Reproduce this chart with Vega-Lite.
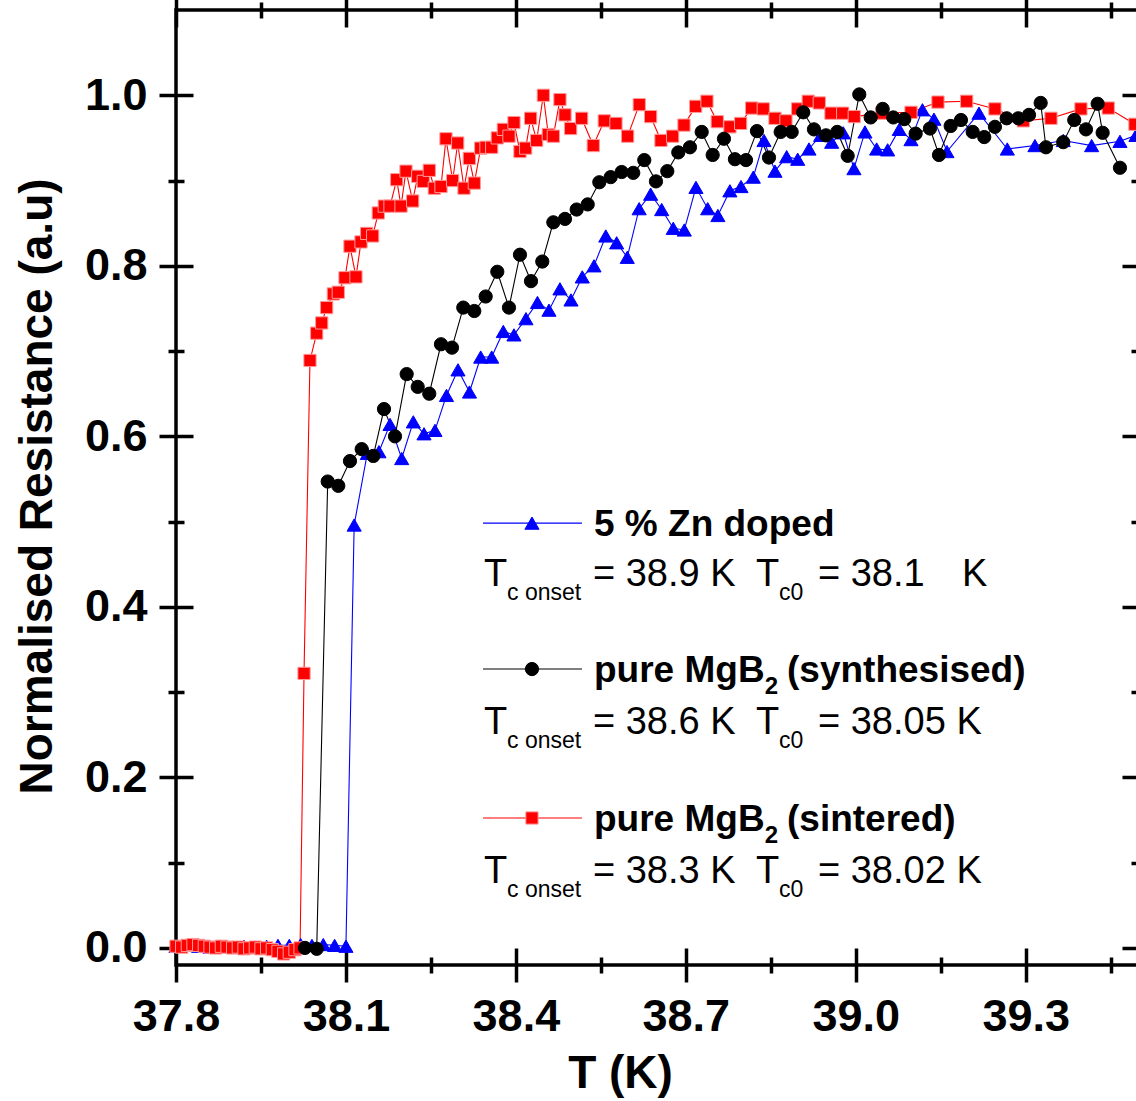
{
  "$schema": "https://vega.github.io/schema/vega-lite/v6.json",
  "width": 963,
  "height": 955,
  "autosize": {"type": "none"},
  "padding": {"left": 176, "top": 10, "right": 0, "bottom": 136},
  "background": "white",
  "config": {
    "view": {"stroke": "black", "strokeWidth": 3.5},
    "font": "Liberation Sans"
  },
  "datasets": {
    "curves": [
      {"s": "zn", "T": 37.80, "R": 0.002}, {"s": "zn", "T": 37.82, "R": 0.003}, {"s": "zn", "T": 37.84, "R": 0.002}, {"s": "zn", "T": 37.86, "R": 0.001},
      {"s": "zn", "T": 37.88, "R": 0.002}, {"s": "zn", "T": 37.90, "R": 0.001}, {"s": "zn", "T": 37.92, "R": 0.002}, {"s": "zn", "T": 37.94, "R": 0.001},
      {"s": "zn", "T": 37.96, "R": 0.002}, {"s": "zn", "T": 37.98, "R": 0.003}, {"s": "zn", "T": 38.00, "R": 0.003}, {"s": "zn", "T": 38.02, "R": 0.004},
      {"s": "zn", "T": 38.04, "R": 0.003}, {"s": "zn", "T": 38.06, "R": 0.004}, {"s": "zn", "T": 38.08, "R": 0.003}, {"s": "zn", "T": 38.10, "R": 0.002},
      {"s": "zn", "T": 38.1145, "R": 0.496}, {"s": "zn", "T": 38.1377, "R": 0.580}, {"s": "zn", "T": 38.1583, "R": 0.582}, {"s": "zn", "T": 38.1778, "R": 0.614},
      {"s": "zn", "T": 38.1984, "R": 0.574}, {"s": "zn", "T": 38.2189, "R": 0.617}, {"s": "zn", "T": 38.2378, "R": 0.603}, {"s": "zn", "T": 38.2572, "R": 0.607},
      {"s": "zn", "T": 38.2775, "R": 0.648}, {"s": "zn", "T": 38.2978, "R": 0.678}, {"s": "zn", "T": 38.3181, "R": 0.652}, {"s": "zn", "T": 38.3379, "R": 0.693},
      {"s": "zn", "T": 38.3573, "R": 0.693}, {"s": "zn", "T": 38.3778, "R": 0.723}, {"s": "zn", "T": 38.3966, "R": 0.719}, {"s": "zn", "T": 38.4178, "R": 0.738},
      {"s": "zn", "T": 38.4381, "R": 0.757}, {"s": "zn", "T": 38.4584, "R": 0.748}, {"s": "zn", "T": 38.4778, "R": 0.773}, {"s": "zn", "T": 38.4973, "R": 0.760},
      {"s": "zn", "T": 38.5172, "R": 0.787}, {"s": "zn", "T": 38.5379, "R": 0.800}, {"s": "zn", "T": 38.5587, "R": 0.835}, {"s": "zn", "T": 38.5779, "R": 0.827},
      {"s": "zn", "T": 38.5966, "R": 0.810}, {"s": "zn", "T": 38.6176, "R": 0.867}, {"s": "zn", "T": 38.6379, "R": 0.884}, {"s": "zn", "T": 38.6574, "R": 0.866},
      {"s": "zn", "T": 38.6778, "R": 0.844}, {"s": "zn", "T": 38.6973, "R": 0.842}, {"s": "zn", "T": 38.7179, "R": 0.892}, {"s": "zn", "T": 38.7386, "R": 0.867},
      {"s": "zn", "T": 38.7566, "R": 0.859}, {"s": "zn", "T": 38.7778, "R": 0.888}, {"s": "zn", "T": 38.7974, "R": 0.893}, {"s": "zn", "T": 38.8191, "R": 0.904},
      {"s": "zn", "T": 38.8380, "R": 0.947}, {"s": "zn", "T": 38.8574, "R": 0.911}, {"s": "zn", "T": 38.8780, "R": 0.928}, {"s": "zn", "T": 38.8975, "R": 0.925},
      {"s": "zn", "T": 38.9174, "R": 0.937}, {"s": "zn", "T": 38.9380, "R": 0.953}, {"s": "zn", "T": 38.9575, "R": 0.945}, {"s": "zn", "T": 38.9779, "R": 0.956},
      {"s": "zn", "T": 38.9968, "R": 0.914}, {"s": "zn", "T": 39.0162, "R": 0.957}, {"s": "zn", "T": 39.0369, "R": 0.937}, {"s": "zn", "T": 39.0563, "R": 0.936},
      {"s": "zn", "T": 39.0768, "R": 0.960}, {"s": "zn", "T": 39.0975, "R": 0.948}, {"s": "zn", "T": 39.1177, "R": 0.983}, {"s": "zn", "T": 39.1380, "R": 0.972},
      {"s": "zn", "T": 39.1610, "R": 0.934}, {"s": "zn", "T": 39.2175, "R": 0.979}, {"s": "zn", "T": 39.2675, "R": 0.937}, {"s": "zn", "T": 39.3163, "R": 0.941},
      {"s": "zn", "T": 39.3663, "R": 0.947}, {"s": "zn", "T": 39.4164, "R": 0.941}, {"s": "zn", "T": 39.4664, "R": 0.946}, {"s": "zn", "T": 39.4946, "R": 0.953},

      {"s": "sint", "T": 37.80, "R": 0.002}, {"s": "sint", "T": 37.81, "R": 0.001}, {"s": "sint", "T": 37.82, "R": 0.003}, {"s": "sint", "T": 37.83, "R": 0.004},
      {"s": "sint", "T": 37.84, "R": 0.003}, {"s": "sint", "T": 37.85, "R": 0.002}, {"s": "sint", "T": 37.86, "R": 0.001}, {"s": "sint", "T": 37.87, "R": 0.000},
      {"s": "sint", "T": 37.88, "R": 0.002}, {"s": "sint", "T": 37.89, "R": 0.001}, {"s": "sint", "T": 37.90, "R": 0.000}, {"s": "sint", "T": 37.91, "R": 0.001},
      {"s": "sint", "T": 37.92, "R": -0.001}, {"s": "sint", "T": 37.93, "R": 0.000}, {"s": "sint", "T": 37.94, "R": 0.001}, {"s": "sint", "T": 37.95, "R": -0.001},
      {"s": "sint", "T": 37.96, "R": 0.000}, {"s": "sint", "T": 37.97, "R": -0.002}, {"s": "sint", "T": 37.98, "R": -0.004}, {"s": "sint", "T": 37.99, "R": -0.007},
      {"s": "sint", "T": 38.00, "R": -0.005}, {"s": "sint", "T": 38.01, "R": -0.002}, {"s": "sint", "T": 38.019, "R": 0.000},
      {"s": "sint", "T": 38.026, "R": 0.322}, {"s": "sint", "T": 38.0365, "R": 0.689}, {"s": "sint", "T": 38.0484, "R": 0.721}, {"s": "sint", "T": 38.0572, "R": 0.733},
      {"s": "sint", "T": 38.066, "R": 0.751}, {"s": "sint", "T": 38.0777, "R": 0.767}, {"s": "sint", "T": 38.0865, "R": 0.769}, {"s": "sint", "T": 38.0983, "R": 0.786},
      {"s": "sint", "T": 38.1071, "R": 0.823}, {"s": "sint", "T": 38.1177, "R": 0.787}, {"s": "sint", "T": 38.1266, "R": 0.828}, {"s": "sint", "T": 38.1366, "R": 0.838},
      {"s": "sint", "T": 38.1472, "R": 0.835}, {"s": "sint", "T": 38.1571, "R": 0.862}, {"s": "sint", "T": 38.1677, "R": 0.870}, {"s": "sint", "T": 38.1778, "R": 0.870},
      {"s": "sint", "T": 38.1896, "R": 0.901}, {"s": "sint", "T": 38.1972, "R": 0.870}, {"s": "sint", "T": 38.206, "R": 0.911}, {"s": "sint", "T": 38.2178, "R": 0.876},
      {"s": "sint", "T": 38.2267, "R": 0.905}, {"s": "sint", "T": 38.2365, "R": 0.899}, {"s": "sint", "T": 38.2471, "R": 0.912}, {"s": "sint", "T": 38.256, "R": 0.891},
      {"s": "sint", "T": 38.2678, "R": 0.893}, {"s": "sint", "T": 38.2766, "R": 0.949}, {"s": "sint", "T": 38.2884, "R": 0.900}, {"s": "sint", "T": 38.2973, "R": 0.944},
      {"s": "sint", "T": 38.3084, "R": 0.891}, {"s": "sint", "T": 38.3178, "R": 0.926}, {"s": "sint", "T": 38.3266, "R": 0.897}, {"s": "sint", "T": 38.3379, "R": 0.938},
      {"s": "sint", "T": 38.3472, "R": 0.939}, {"s": "sint", "T": 38.3573, "R": 0.939}, {"s": "sint", "T": 38.3672, "R": 0.950}, {"s": "sint", "T": 38.3778, "R": 0.960},
      {"s": "sint", "T": 38.3878, "R": 0.952}, {"s": "sint", "T": 38.3966, "R": 0.968}, {"s": "sint", "T": 38.4072, "R": 0.934}, {"s": "sint", "T": 38.4173, "R": 0.938},
      {"s": "sint", "T": 38.4261, "R": 0.973}, {"s": "sint", "T": 38.4367, "R": 0.947}, {"s": "sint", "T": 38.4484, "R": 1.000}, {"s": "sint", "T": 38.4572, "R": 0.954},
      {"s": "sint", "T": 38.4661, "R": 0.952}, {"s": "sint", "T": 38.4778, "R": 0.995}, {"s": "sint", "T": 38.4867, "R": 0.977}, {"s": "sint", "T": 38.4967, "R": 0.961},
      {"s": "sint", "T": 38.5161, "R": 0.973}, {"s": "sint", "T": 38.5366, "R": 0.941}, {"s": "sint", "T": 38.556, "R": 0.970}, {"s": "sint", "T": 38.5767, "R": 0.967},
      {"s": "sint", "T": 38.5973, "R": 0.952}, {"s": "sint", "T": 38.6178, "R": 0.989}, {"s": "sint", "T": 38.6379, "R": 0.975}, {"s": "sint", "T": 38.6561, "R": 0.947},
      {"s": "sint", "T": 38.6768, "R": 0.952}, {"s": "sint", "T": 38.6967, "R": 0.965}, {"s": "sint", "T": 38.7174, "R": 0.987}, {"s": "sint", "T": 38.7373, "R": 0.993},
      {"s": "sint", "T": 38.7555, "R": 0.969}, {"s": "sint", "T": 38.7779, "R": 0.963}, {"s": "sint", "T": 38.7968, "R": 0.967}, {"s": "sint", "T": 38.8162, "R": 0.985},
      {"s": "sint", "T": 38.8367, "R": 0.984}, {"s": "sint", "T": 38.8574, "R": 0.973}, {"s": "sint", "T": 38.8768, "R": 0.970}, {"s": "sint", "T": 38.8975, "R": 0.984},
      {"s": "sint", "T": 38.9161, "R": 0.993}, {"s": "sint", "T": 38.9356, "R": 0.991}, {"s": "sint", "T": 38.9562, "R": 0.979}, {"s": "sint", "T": 38.9769, "R": 0.979},
      {"s": "sint", "T": 38.9973, "R": 0.975}, {"s": "sint", "T": 39.0463, "R": 0.979}, {"s": "sint", "T": 39.0975, "R": 0.980}, {"s": "sint", "T": 39.1451, "R": 0.992},
      {"s": "sint", "T": 39.1958, "R": 0.993}, {"s": "sint", "T": 39.2457, "R": 0.984}, {"s": "sint", "T": 39.2957, "R": 0.970}, {"s": "sint", "T": 39.3446, "R": 0.973},
      {"s": "sint", "T": 39.3975, "R": 0.984}, {"s": "sint", "T": 39.4457, "R": 0.985}, {"s": "sint", "T": 39.4928, "R": 0.966},

      {"s": "synth", "T": 38.0277, "R": 0.000}, {"s": "synth", "T": 38.0484, "R": -0.001}, {"s": "synth", "T": 38.0678, "R": 0.547}, {"s": "synth", "T": 38.0865, "R": 0.542},
      {"s": "synth", "T": 38.1071, "R": 0.571}, {"s": "synth", "T": 38.1278, "R": 0.585}, {"s": "synth", "T": 38.1483, "R": 0.577}, {"s": "synth", "T": 38.1672, "R": 0.632},
      {"s": "synth", "T": 38.1866, "R": 0.600}, {"s": "synth", "T": 38.2072, "R": 0.673}, {"s": "synth", "T": 38.2267, "R": 0.658}, {"s": "synth", "T": 38.2471, "R": 0.650},
      {"s": "synth", "T": 38.2678, "R": 0.708}, {"s": "synth", "T": 38.2872, "R": 0.704}, {"s": "synth", "T": 38.3071, "R": 0.751}, {"s": "synth", "T": 38.3266, "R": 0.747},
      {"s": "synth", "T": 38.3467, "R": 0.764}, {"s": "synth", "T": 38.3672, "R": 0.793}, {"s": "synth", "T": 38.3878, "R": 0.751}, {"s": "synth", "T": 38.4072, "R": 0.813},
      {"s": "synth", "T": 38.4267, "R": 0.782}, {"s": "synth", "T": 38.4466, "R": 0.805}, {"s": "synth", "T": 38.4661, "R": 0.851}, {"s": "synth", "T": 38.4867, "R": 0.855},
      {"s": "synth", "T": 38.5073, "R": 0.866}, {"s": "synth", "T": 38.5268, "R": 0.872}, {"s": "synth", "T": 38.5473, "R": 0.898}, {"s": "synth", "T": 38.5673, "R": 0.904},
      {"s": "synth", "T": 38.5867, "R": 0.910}, {"s": "synth", "T": 38.6072, "R": 0.909}, {"s": "synth", "T": 38.6267, "R": 0.924}, {"s": "synth", "T": 38.6473, "R": 0.899},
      {"s": "synth", "T": 38.6673, "R": 0.911}, {"s": "synth", "T": 38.6867, "R": 0.933}, {"s": "synth", "T": 38.7073, "R": 0.939}, {"s": "synth", "T": 38.7280, "R": 0.957},
      {"s": "synth", "T": 38.7474, "R": 0.930}, {"s": "synth", "T": 38.7673, "R": 0.949}, {"s": "synth", "T": 38.7867, "R": 0.925}, {"s": "synth", "T": 38.8062, "R": 0.924},
      {"s": "synth", "T": 38.8256, "R": 0.958}, {"s": "synth", "T": 38.8468, "R": 0.927}, {"s": "synth", "T": 38.8674, "R": 0.957}, {"s": "synth", "T": 38.8869, "R": 0.957},
      {"s": "synth", "T": 38.9073, "R": 0.980}, {"s": "synth", "T": 38.9262, "R": 0.960}, {"s": "synth", "T": 38.9474, "R": 0.953}, {"s": "synth", "T": 38.9673, "R": 0.957},
      {"s": "synth", "T": 38.9857, "R": 0.929}, {"s": "synth", "T": 39.0062, "R": 1.001}, {"s": "synth", "T": 39.0263, "R": 0.974}, {"s": "synth", "T": 39.0475, "R": 0.984},
      {"s": "synth", "T": 39.0662, "R": 0.974}, {"s": "synth", "T": 39.0856, "R": 0.972}, {"s": "synth", "T": 39.1057, "R": 0.955}, {"s": "synth", "T": 39.1310, "R": 0.961},
      {"s": "synth", "T": 39.1469, "R": 0.930}, {"s": "synth", "T": 39.1675, "R": 0.964}, {"s": "synth", "T": 39.1857, "R": 0.971}, {"s": "synth", "T": 39.2064, "R": 0.957},
      {"s": "synth", "T": 39.2268, "R": 0.951}, {"s": "synth", "T": 39.2457, "R": 0.963}, {"s": "synth", "T": 39.2664, "R": 0.973}, {"s": "synth", "T": 39.2869, "R": 0.973},
      {"s": "synth", "T": 39.3058, "R": 0.977}, {"s": "synth", "T": 39.3264, "R": 0.991}, {"s": "synth", "T": 39.3357, "R": 0.939}, {"s": "synth", "T": 39.3663, "R": 0.945},
      {"s": "synth", "T": 39.3857, "R": 0.971}, {"s": "synth", "T": 39.4064, "R": 0.960}, {"s": "synth", "T": 39.4270, "R": 0.990}, {"s": "synth", "T": 39.4358, "R": 0.956},
      {"s": "synth", "T": 39.4664, "R": 0.915}
    ],
    "key": [
      {"s": "zn", "T1": 38.3419, "T2": 38.5167, "Tm": 38.4284, "R": 0.4982},
      {"s": "synth", "T1": 38.3419, "T2": 38.5167, "Tm": 38.4284, "R": 0.3271},
      {"s": "sint", "T1": 38.3419, "T2": 38.5167, "Tm": 38.4284, "R": 0.1524}
    ],
    "notes": [
      {"role": "head", "T": 38.5379, "R": 0.4830, "text": "5 % Zn doped"},
      {"role": "body", "T": 38.3437, "R": 0.4244, "text": "T"},
      {"role": "bsub", "T": 38.3843, "R": 0.4080, "text": "c onset"},
      {"role": "body", "T": 38.5361, "R": 0.4244, "text": "= 38.9 K"},
      {"role": "body", "T": 38.8238, "R": 0.4244, "text": "T"},
      {"role": "bsub", "T": 38.8644, "R": 0.4080, "text": "c0"},
      {"role": "body", "T": 38.9333, "R": 0.4244, "text": "= 38.1"},
      {"role": "body", "T": 39.1875, "R": 0.4244, "text": "K"},

      {"role": "head", "T": 38.5379, "R": 0.3118, "text": "pure MgB"},
      {"role": "hsub", "T": 38.8393, "R": 0.2978, "text": "2"},
      {"role": "head", "T": 38.8786, "R": 0.3118, "text": "(synthesised)"},
      {"role": "body", "T": 38.3437, "R": 0.2509, "text": "T"},
      {"role": "bsub", "T": 38.3843, "R": 0.2345, "text": "c onset"},
      {"role": "body", "T": 38.5361, "R": 0.2509, "text": "= 38.6 K"},
      {"role": "body", "T": 38.8238, "R": 0.2509, "text": "T"},
      {"role": "bsub", "T": 38.8644, "R": 0.2345, "text": "c0"},
      {"role": "body", "T": 38.9333, "R": 0.2509, "text": "= 38.05 K"},

      {"role": "head", "T": 38.5379, "R": 0.1372, "text": "pure MgB"},
      {"role": "hsub", "T": 38.8393, "R": 0.1231, "text": "2"},
      {"role": "head", "T": 38.8786, "R": 0.1372, "text": "(sintered)"},
      {"role": "body", "T": 38.3437, "R": 0.0762, "text": "T"},
      {"role": "bsub", "T": 38.3843, "R": 0.0598, "text": "c onset"},
      {"role": "body", "T": 38.5361, "R": 0.0762, "text": "= 38.3 K"},
      {"role": "body", "T": 38.8238, "R": 0.0762, "text": "T"},
      {"role": "bsub", "T": 38.8644, "R": 0.0598, "text": "c0"},
      {"role": "body", "T": 38.9333, "R": 0.0762, "text": "= 38.02 K"}
    ]
  },
  "layer": [
    {
      "data": {"name": "curves"},
      "mark": {"type": "line", "strokeWidth": 1.1},
      "encoding": {
        "x": {
          "field": "T", "type": "quantitative",
          "scale": {"domain": [37.8, 39.5], "nice": false, "zero": false},
          "axis": {
            "orient": "bottom", "offset": -17, "tickSize": 34, "tickWidth": 3.5, "tickColor": "black",
            "domain": false, "grid": false,
            "values": [37.8, 38.1, 38.4, 38.7, 39.0, 39.3], "format": ".1f",
            "labelFont": "Liberation Sans", "labelFontSize": 45, "labelFontWeight": "bold", "labelColor": "black",
            "labelPadding": 12, "labelFlush": false, "labelOverlap": false,
            "title": "T (K)", "titleFont": "Liberation Sans", "titleFontSize": 46, "titleFontWeight": "bold", "titleColor": "black",
            "titleX": 444, "titleY": 139, "titleAlign": "center", "titleBaseline": "alphabetic"
          }
        },
        "y": {
          "field": "R", "type": "quantitative",
          "scale": {"domain": [-0.02, 1.1], "nice": false, "zero": false},
          "axis": {
            "orient": "left", "offset": -17, "tickSize": 34, "tickWidth": 3.5, "tickColor": "black",
            "domain": false, "grid": false,
            "values": [0, 0.2, 0.4, 0.6, 0.8, 1.0], "format": ".1f",
            "labelFont": "Liberation Sans", "labelFontSize": 45, "labelFontWeight": "bold", "labelColor": "black",
            "labelPadding": 12, "labelFlush": false, "labelOverlap": false,
            "title": "Normalised Resistance (a.u)", "titleFont": "Liberation Sans", "titleFontSize": 46, "titleFontWeight": "bold", "titleColor": "black",
            "titleX": -142, "titleY": 476, "titleAngle": -90, "titleAlign": "center", "titleBaseline": "alphabetic"
          }
        },
        "color": {
          "field": "s", "type": "nominal",
          "scale": {"domain": ["zn", "synth", "sint"], "range": ["#0000ff", "#000000", "#ff0000"]},
          "legend": null
        }
      }
    },
    {
      "data": {"name": "curves"},
      "mark": {"type": "point", "filled": true, "opacity": 1, "strokeWidth": 1},
      "encoding": {
        "x": {
          "field": "T", "type": "quantitative",
          "scale": {"domain": [37.8, 39.5], "nice": false, "zero": false},
          "axis": {
            "orient": "bottom", "offset": -8, "tickSize": 16, "tickWidth": 3.5, "tickColor": "black",
            "domain": false, "grid": false, "labels": false,
            "values": [37.95, 38.25, 38.55, 38.85, 39.15, 39.45], "title": null
          }
        },
        "y": {
          "field": "R", "type": "quantitative",
          "scale": {"domain": [-0.02, 1.1], "nice": false, "zero": false},
          "axis": {
            "orient": "left", "offset": -8, "tickSize": 16, "tickWidth": 3.5, "tickColor": "black",
            "domain": false, "grid": false, "labels": false,
            "values": [0.1, 0.3, 0.5, 0.7, 0.9], "title": null
          }
        },
        "color": {"field": "s", "type": "nominal", "legend": null},
        "stroke": {
          "field": "s", "type": "nominal",
          "scale": {"domain": ["zn", "synth", "sint"], "range": ["#0000ff", "#000000", "#ff9a9a"]},
          "legend": null
        },
        "shape": {
          "field": "s", "type": "nominal",
          "scale": {"domain": ["zn", "synth", "sint"], "range": ["triangle-up", "circle", "square"]},
          "legend": null
        },
        "size": {
          "field": "s", "type": "nominal",
          "scale": {"domain": ["zn", "synth", "sint"], "range": [200, 150, 105]},
          "legend": null
        }
      }
    },
    {
      "data": {"name": "key"},
      "mark": {"type": "rule", "strokeWidth": 1.1},
      "encoding": {
        "x": {
          "field": "T1", "type": "quantitative",
          "scale": {"domain": [37.8, 39.5], "nice": false, "zero": false},
          "axis": {
            "orient": "top", "offset": -17, "tickSize": 34, "tickWidth": 3.5, "tickColor": "black",
            "domain": false, "grid": false, "labels": false,
            "values": [37.8, 38.1, 38.4, 38.7, 39.0, 39.3], "title": null
          }
        },
        "x2": {"field": "T2"},
        "y": {
          "field": "R", "type": "quantitative",
          "scale": {"domain": [-0.02, 1.1], "nice": false, "zero": false},
          "axis": {
            "orient": "right", "offset": -17, "tickSize": 34, "tickWidth": 3.5, "tickColor": "black",
            "domain": false, "grid": false, "labels": false,
            "values": [0, 0.2, 0.4, 0.6, 0.8, 1.0], "title": null
          }
        },
        "color": {"field": "s", "type": "nominal", "legend": null}
      }
    },
    {
      "data": {"name": "key"},
      "mark": {"type": "point", "filled": true, "opacity": 1, "strokeWidth": 1},
      "encoding": {
        "x": {
          "field": "Tm", "type": "quantitative",
          "scale": {"domain": [37.8, 39.5], "nice": false, "zero": false},
          "axis": {
            "orient": "top", "offset": -8, "tickSize": 16, "tickWidth": 3.5, "tickColor": "black",
            "domain": false, "grid": false, "labels": false,
            "values": [37.95, 38.25, 38.55, 38.85, 39.15, 39.45], "title": null
          }
        },
        "y": {
          "field": "R", "type": "quantitative",
          "scale": {"domain": [-0.02, 1.1], "nice": false, "zero": false},
          "axis": {
            "orient": "right", "offset": -8, "tickSize": 16, "tickWidth": 3.5, "tickColor": "black",
            "domain": false, "grid": false, "labels": false,
            "values": [0.1, 0.3, 0.5, 0.7, 0.9], "title": null
          }
        },
        "color": {"field": "s", "type": "nominal", "legend": null},
        "stroke": {"field": "s", "type": "nominal", "legend": null},
        "shape": {"field": "s", "type": "nominal", "legend": null},
        "size": {"field": "s", "type": "nominal", "legend": null}
      }
    },
    {
      "data": {"name": "notes"},
      "transform": [{"filter": "datum.role === 'head'"}],
      "mark": {"type": "text", "align": "left", "baseline": "alphabetic", "font": "Liberation Sans", "fontSize": 37, "fontWeight": "bold", "color": "black"},
      "encoding": {
        "x": {"field": "T", "type": "quantitative", "axis": null},
        "y": {"field": "R", "type": "quantitative", "axis": null},
        "text": {"field": "text"}
      }
    },
    {
      "data": {"name": "notes"},
      "transform": [{"filter": "datum.role === 'hsub'"}],
      "mark": {"type": "text", "align": "left", "baseline": "alphabetic", "font": "Liberation Sans", "fontSize": 24, "fontWeight": "bold", "color": "black"},
      "encoding": {
        "x": {"field": "T", "type": "quantitative", "axis": null},
        "y": {"field": "R", "type": "quantitative", "axis": null},
        "text": {"field": "text"}
      }
    },
    {
      "data": {"name": "notes"},
      "transform": [{"filter": "datum.role === 'body'"}],
      "mark": {"type": "text", "align": "left", "baseline": "alphabetic", "font": "Liberation Sans", "fontSize": 38, "color": "black"},
      "encoding": {
        "x": {"field": "T", "type": "quantitative", "axis": null},
        "y": {"field": "R", "type": "quantitative", "axis": null},
        "text": {"field": "text"}
      }
    },
    {
      "data": {"name": "notes"},
      "transform": [{"filter": "datum.role === 'bsub'"}],
      "mark": {"type": "text", "align": "left", "baseline": "alphabetic", "font": "Liberation Sans", "fontSize": 23, "color": "black"},
      "encoding": {
        "x": {"field": "T", "type": "quantitative", "axis": null},
        "y": {"field": "R", "type": "quantitative", "axis": null},
        "text": {"field": "text"}
      }
    }
  ],
  "resolve": {"axis": {"x": "independent", "y": "independent"}}
}
